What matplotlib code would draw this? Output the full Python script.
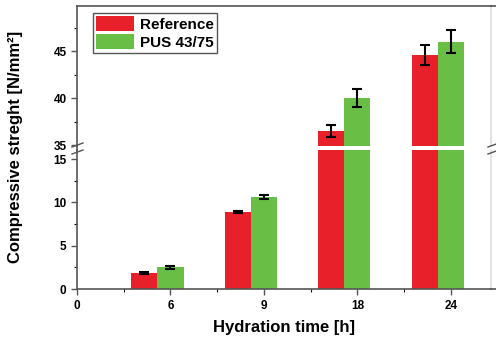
import matplotlib
matplotlib.use('Agg')
import matplotlib.pyplot as plt
from matplotlib.lines import Line2D
import numpy as np

plt.rcParams['font.family'] = ['Liberation Sans', 'DejaVu Sans']
plt.rcParams['font.weight'] = 'bold'

hours = ['0', '6', '9', '18', '24']
pos = np.array([1, 2, 3, 4])          # positions of the 6, 9, 18, 24 h groups
ref = [1.8, 8.9, 36.5, 44.6]
ref_err = [0.12, 0.1, 0.6, 1.05]
pus = [2.5, 10.6, 40.0, 46.0]
pus_err = [0.15, 0.2, 1.0, 1.2]

red = '#e8202a'
green = '#69be46'
w = 0.28

W, H = 496, 339
fig = plt.figure(figsize=(W / 100, H / 100), dpi=100)
left, right = 77 / W, 491 / W
ax_top = fig.add_axes([left, 1 - 146 / H, right - left, 140 / H])
ax_bot = fig.add_axes([left, 1 - 289 / H, right - left, 139 / H])

for ax in (ax_top, ax_bot):
    ax.bar(pos - w, ref, w, color=red, label='Reference', zorder=2)
    ax.bar(pos, pus, w, color=green, label='PUS 43/75', zorder=2)
    ax.errorbar(pos - w, ref, yerr=ref_err, fmt='none', ecolor='black',
                elinewidth=1.5, capsize=3.5, capthick=1.5, zorder=3)
    ax.errorbar(pos, pus, yerr=pus_err, fmt='none', ecolor='black',
                elinewidth=1.5, capsize=3.5, capthick=1.5, zorder=3)
    ax.set_xlim(0, 4.43)
    for s in ax.spines.values():
        s.set_color('#555555')
        s.set_linewidth(1.2)
    ax.spines['right'].set_color('#dddddd')
    ax.tick_params(axis='both', labelsize=8.5, width=1, color='#555555')
    ax.tick_params(axis='y', which='major', length=4)
    ax.tick_params(axis='y', which='minor', length=2.5, width=0.8)

ax_top.set_ylim(34.9, 49.8)
ax_top.set_yticks([35, 40, 45])
ax_top.set_yticks([37.5, 42.5, 47.5], minor=True)
ax_top.spines['bottom'].set_visible(False)
ax_top.tick_params(axis='x', which='both', bottom=False, labelbottom=False)

ax_bot.set_ylim(0, 16.04)
ax_bot.set_yticks([0, 5, 10, 15])
ax_bot.set_yticks([2.5, 7.5, 12.5], minor=True)
ax_bot.spines['top'].set_visible(False)
ax_bot.set_xticks(range(len(hours)))
ax_bot.set_xticklabels(hours)
ax_bot.set_xticks([0.5, 1.5, 2.5, 3.5], minor=True)
ax_bot.tick_params(axis='x', which='major', length=4, pad=4)
ax_bot.tick_params(axis='x', which='minor', length=2.5, width=0.8)
ax_bot.set_xlabel('Hydration time [h]', fontsize=12, fontweight='bold', labelpad=6)

fig.text(16 / W, 1 - 147 / H, 'Compressive streght [N/mm²]', rotation=90,
         fontsize=12, fontweight='bold', ha='center', va='center')

# break marks on the y axis
fig.add_artist(Line2D([77 / W, 77 / W], [1 - 146 / H, 1 - 150 / H],
                      transform=fig.transFigure, color='#555555', lw=1.2))
for xb in (77, 493):
    for yb in (145, 152):
        fig.add_artist(Line2D([(xb - 5) / W, (xb + 6) / W],
                              [1 - (yb + 2) / H, 1 - (yb - 2) / H],
                              transform=fig.transFigure, color='#555555', lw=1))

# top and bottom frame lines run to the picture edge
for yl in (6, 289):
    fig.add_artist(Line2D([491 / W, 1], [1 - yl / H, 1 - yl / H],
                          transform=fig.transFigure, color='#555555', lw=1.2))

leg = ax_top.legend(loc='upper left', bbox_to_anchor=(16 / 414, 1 - 7 / 140),
                    fontsize=11, handlelength=2.5, handleheight=1.15,
                    handletextpad=0.4, labelspacing=0.15, borderpad=0.2,
                    borderaxespad=0, fancybox=False, edgecolor='#555555',
                    framealpha=1)
leg.get_frame().set_linewidth(1)

fig.savefig('out.png', dpi=100)
